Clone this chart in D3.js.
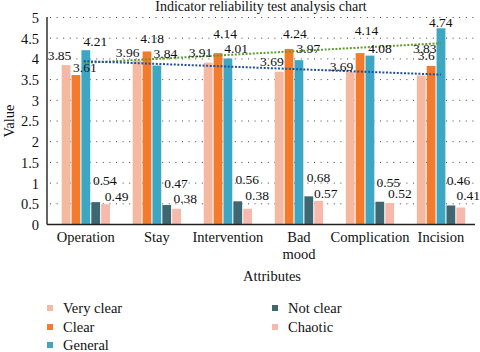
<!DOCTYPE html>
<html><head><meta charset="utf-8">
<script src="https://cdn.jsdelivr.net/npm/d3@7"></script>
<style>
html,body{margin:0;padding:0;background:#fff;}
svg{display:block;}
svg text{font-family:"Liberation Serif","Times New Roman",serif !important;fill:#111;}
</style></head>
<body>
<script>
const categories = ["Operation","Stay","Intervention","Bad mood","Complication","Incision"];
const seriesNames = ["Very clear","Clear","General","Not clear","Chaotic"];
const veryClear = [3.85,3.96,3.91,3.69,3.69,3.6];
const clear     = [3.61,4.18,4.14,4.24,4.14,3.83];
const general   = [4.21,3.84,4.01,3.97,4.08,4.74];
const notClear  = [0.54,0.47,0.56,0.68,0.55,0.46];
const chaotic   = [0.49,0.38,0.38,0.57,0.52,0.41];
const yTicks = [0,0.5,1,1.5,2,2.5,3,3.5,4,4.5,5];
const seriesValues = [veryClear, clear, general, notClear, chaotic];
const colors = ["#f5b8a0","#f47b2c","#3ca6c3","#3f6771","#f7b9ab"];
// label nudges (px) relative to bar centre / bar top
const labelDx = [[-6.5,-9.5,-7.6,-7.3,-8.7,5],[8.9,5.2,7.1,5.8,6.4,-6.3],[9.5,8.5,8.3,9.4,10,-0.2],[9,9.3,9.5,9.7,8.6,7.6],[11,8.6,9.5,7.1,10.2,7.5]];
const labelDy = [[-5,-4,-5.3,-5.7,-0.5,-15.5],[-3.3,-8,-14.8,-11.3,-18,-12.7],[-4.5,-8,-5.2,-7.4,-3,-1],[-17,-17,-17,-14.6,-15,-20],[-3,-5.5,-9,-2.6,-5,-7.5]];

const FONT='"Liberation Serif","Times New Roman",serif';
const W=480,H=352;
const svg=d3.select("body").append("svg").attr("width",W).attr("height",H).attr("font-family",FONT);
const axisX=47, plotR=475;
const y=d3.scaleLinear().domain([0,5]).range([224.5,17.5]);
const x0=d3.scaleBand().domain(categories).range([50.3,476.5]);
const groupW=48.3;
const x1=d3.scaleBand().domain(seriesNames).range([0,groupW]).paddingInner(0.11);
const gx=c=>x0(c)+(x0.bandwidth()-groupW)/2;

// gridlines
svg.append("g").selectAll("line").data(yTicks.filter(t=>t>0)).join("line")
 .attr("x1",axisX+3).attr("x2",plotR).attr("y1",d=>y(d)).attr("y2",d=>y(d))
 .attr("stroke","#444").attr("stroke-width",1).attr("stroke-dasharray","1,5.6");

// y axis
const ya=d3.axisLeft(y).tickValues(yTicks).tickSize(0).tickPadding(8).tickFormat(d=>String(d));
const yg=svg.append("g").attr("transform",`translate(${axisX},0)`).call(ya).attr("font-family",FONT).attr("font-size",14.5);
yg.select(".domain").remove();
yg.selectAll("text").style("font-size","14.5px").style("font-family",FONT).attr("fill","#111").attr("dy","0.34em");

// bars
const gs=svg.append("g");
seriesValues.forEach((vals,si)=>{
  gs.append("g").selectAll("rect").data(vals).join("rect")
   .attr("x",(d,i)=>gx(categories[i])+x1(seriesNames[si]))
   .attr("width",x1.bandwidth())
   .attr("y",d=>y(d)).attr("height",d=>y(0)-y(d))
   .attr("fill",colors[si]);
});

// axes lines
svg.append("line").attr("x1",axisX).attr("x2",axisX).attr("y1",17).attr("y2",y(0)).attr("stroke","#222").attr("stroke-width",1.4);
svg.append("line").attr("x1",axisX).attr("x2",plotR).attr("y1",y(0)).attr("y2",y(0)).attr("stroke","#222").attr("stroke-width",1.4);

// trend lines (linear fit)
function fit(vals){
  const xs=vals.map((v,i)=>i+1);
  const mx=d3.mean(xs), my=d3.mean(vals);
  const b=d3.sum(xs.map((xv,i)=>(xv-mx)*(vals[i]-my)))/d3.sum(xs.map(xv=>(xv-mx)**2));
  return t=>my+b*(t-mx);
}
const cx=i=>x0(categories[i])+x0.bandwidth()/2;
[[general,"#5f9b2e"],[veryClear,"#1f4f9e"]].forEach(([vals,col])=>{
  const f=fit(vals);
  svg.append("line").attr("x1",cx(0)-2).attr("x2",cx(5)).attr("y1",y(f(1))).attr("y2",y(f(6)))
   .attr("stroke",col).attr("stroke-width",2).attr("stroke-dasharray","2,1.6");
});

// value labels
const lg=svg.append("g");
seriesValues.forEach((vals,si)=>{
  lg.append("g").selectAll("text").data(vals).join("text")
   .attr("x",(d,i)=>gx(categories[i])+x1(seriesNames[si])+x1.bandwidth()/2+labelDx[si][i])
   .attr("y",(d,i)=>y(d)+labelDy[si][i])
   .attr("text-anchor","middle").style("font-size","13.5px").style("font-family",FONT)
   .text(d=>String(d));
});

// x labels
const xl=svg.append("g");
categories.forEach((c,i)=>{
  const words=c==="Bad mood"?["Bad","mood"]:[c];
  const t=xl.append("text").attr("x",cx(i)).attr("y",242).attr("text-anchor","middle").style("font-size","14.5px").style("font-family",FONT);
  words.forEach((w,k)=>t.append("tspan").attr("x",cx(i)).attr("dy",k?17:0).text(w));
});

// titles
svg.append("text").attr("x",261).attr("y",11).attr("text-anchor","middle").style("font-size","14px").style("font-family",FONT).text("Indicator reliability test analysis chart");
svg.append("text").attr("x",272).attr("y",281).attr("text-anchor","middle").style("font-size","14.5px").style("font-family",FONT).text("Attributes");
svg.append("text").attr("transform","translate(14,121) rotate(-90)").attr("text-anchor","middle").style("font-size","14.5px").style("font-family",FONT).text("Value");

// legend
const legPos=[[47,308],[47,327],[47,345],[272,308],[272,327]];
seriesNames.forEach((s,i)=>{
  const [lx,ly]=legPos[i];
  svg.append("rect").attr("x",lx).attr("y",ly-3).attr("width",6).attr("height",6).attr("fill",colors[i]);
  svg.append("text").attr("x",lx+16).attr("y",ly).attr("dy","0.35em").style("font-size","14.5px").style("font-family",FONT).text(s);
});
</script>
</body></html>
